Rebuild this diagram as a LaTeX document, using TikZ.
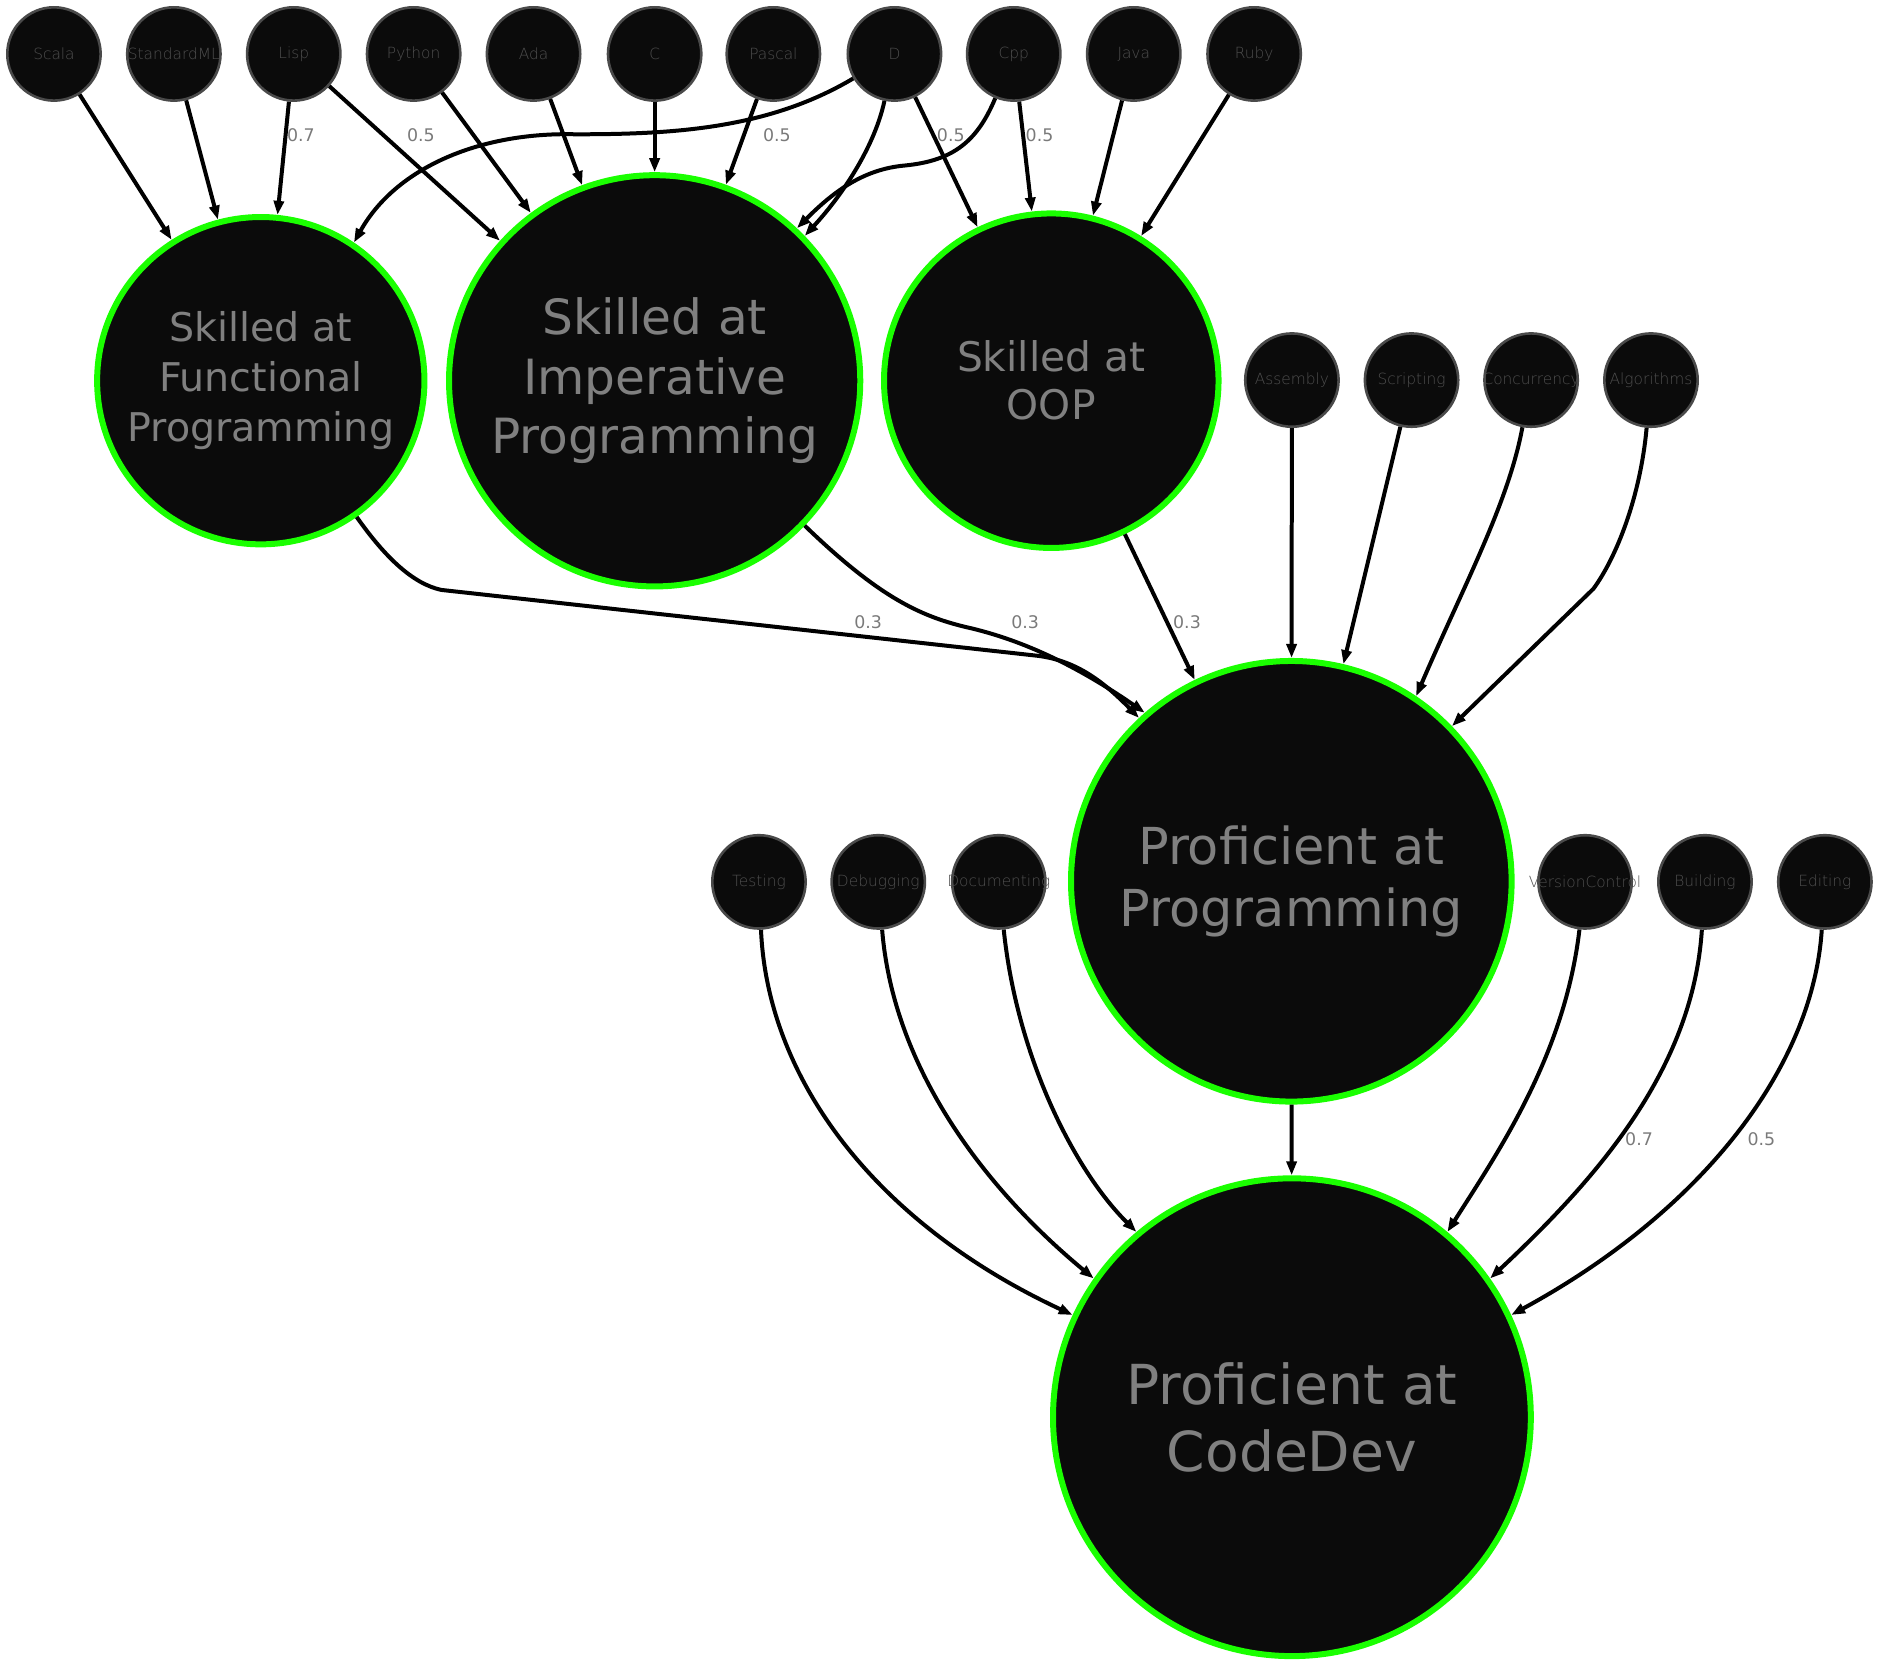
\documentclass[tikz,border=0pt]{standalone}
\usepackage{fontspec}
\setmainfont{DejaVu Sans}
\IfFontExistsTF{DejaVu Sans ExtraLight}{\newfontfamily\smallfont{DejaVu Sans ExtraLight}}{\newfontfamily\smallfont{DejaVu Sans}}
\usetikzlibrary{arrows.meta}
\definecolor{nodefill}{HTML}{0B0B0B}
\definecolor{ringgreen}{HTML}{1AFF00}
\definecolor{smallring}{HTML}{4A4A4A}
\definecolor{smalltext}{HTML}{4E4E4E}
\definecolor{bigtext}{HTML}{808080}
\definecolor{lbltext}{HTML}{7A7A7A}
\tikzset{
  small/.style={circle, draw=smallring, line width=1.3pt, fill=nodefill,
    minimum size=46.7pt, inner sep=0pt, text=smalltext,
    font=\smallfont\fontsize{7.7pt}{9pt}\selectfont},
  big/.style={circle, draw=ringgreen, line width=3pt, fill=nodefill,
    inner sep=0pt, text=bigtext, align=center},
  conn/.style={draw=black, line width=2pt, -{Triangle[length=7pt,width=5pt]}},
  lbl/.style={text=lbltext, font=\fontsize{8.7pt}{10pt}\selectfont, inner sep=0pt}
}
\begin{document}
\begin{tikzpicture}[x=0.6pt,y=-0.6pt]
\useasboundingbox (0,0) rectangle (1568,1388);

% big nodes
\node[big, minimum size=163.8pt, font=\fontsize{19.8pt}{24.9pt}\selectfont] (Func) at (217.5,317.5) {Skilled at\\Functional\\Programming};
\node[big, minimum size=205.8pt, font=\fontsize{24.3pt}{29.7pt}\selectfont] (Imp) at (546,317.6) {Skilled at\\Imperative\\Programming};
\node[big, minimum size=167.4pt, font=\fontsize{20.4pt}{24.1pt}\selectfont] (OOP) at (876.8,317.5) {Skilled at\\OOP};
\node[big, minimum size=220.5pt, font=\fontsize{25.5pt}{31pt}\selectfont] (Prog) at (1077,735) {Proficient at\\Programming};
\node[big, minimum size=239.1pt, font=\fontsize{27.6pt}{33.6pt}\selectfont] (Code) at (1077.5,1182) {Proficient at\\CodeDev};

% small nodes, top row
\node[small] (Scala) at (45,45) {\makebox[0pt]{Scala}};
\node[small] (SML) at (145,45) {\makebox[0pt]{StandardML}};
\node[small] (Lisp) at (245,45) {\makebox[0pt]{Lisp}};
\node[small] (Python) at (345,45) {\makebox[0pt]{Python}};
\node[small] (Ada) at (445,45) {\makebox[0pt]{Ada}};
\node[small] (C) at (546,45) {\makebox[0pt]{C}};
\node[small] (Pascal) at (645,45) {\makebox[0pt]{Pascal}};
\node[small] (D) at (746,45) {\makebox[0pt]{D}};
\node[small] (Cpp) at (845.5,45) {\makebox[0pt]{Cpp}};
\node[small] (Java) at (945.6,45) {\makebox[0pt]{Java}};
\node[small] (Ruby) at (1046,45) {\makebox[0pt]{Ruby}};
% middle row
\node[small] (Asm) at (1077.5,317) {\makebox[0pt]{Assembly}};
\node[small] (Scr) at (1177.3,317) {\makebox[0pt]{Scripting}};
\node[small] (Conc) at (1277,317) {\makebox[0pt]{Concurrency}};
\node[small] (Alg) at (1377,317) {\makebox[0pt]{Algorithms}};
% lower row
\node[small] (Test) at (633,735.5) {\makebox[0pt]{Testing}};
\node[small] (Debug) at (732.5,735.5) {\makebox[0pt]{Debugging}};
\node[small] (Doc) at (833,735.5) {\makebox[0pt]{Documenting}};
\node[small] (VC) at (1322,735.5) {\makebox[0pt]{VersionControl}};
\node[small] (Build) at (1422,735.5) {\makebox[0pt]{Building}};
\node[small] (Edit) at (1522,735.5) {\makebox[0pt]{Editing}};

% edges into Functional
\draw[conn] (Scala) -- (Func);
\draw[conn] (SML) -- (Func);
\draw[conn] (Lisp) -- (Func);
\draw[conn] (D) .. controls (640,108) and (560,112) .. (480,112) .. controls (400,110) and (330,140) .. (Func.56);
% edges into Imperative
\draw[conn] (Lisp) -- (Imp);
\draw[conn] (Python) -- (Imp);
\draw[conn] (Ada) -- (Imp);
\draw[conn] (C) -- (Imp);
\draw[conn] (Pascal) -- (Imp);
\draw[conn] (D) .. controls (730,120) and (705,160) .. (Imp.44);
\draw[conn] (Cpp) .. controls (815,118) and (795,134) .. (755,138) .. controls (720,141) and (695,160) .. (Imp.47);
% edges into OOP
\draw[conn] (D) -- (OOP);
\draw[conn] (Cpp) -- (OOP);
\draw[conn] (Java) -- (OOP);
\draw[conn] (Ruby) -- (OOP);
% edges into Programming
\draw[conn] (Func) .. controls (322,466) and (345,487) .. (368,492) -- (866,547) .. controls (896,551) and (918,566) .. (Prog.133);
\draw[conn] (Imp) .. controls (735,500) and (770,515) .. (810,524) .. controls (860,536) and (905,560) .. (Prog.131);
\draw[conn] (OOP) -- (Prog);
\draw[conn] (Asm) -- (Prog);
\draw[conn] (Scr) -- (Prog);
\draw[conn] (Conc) .. controls (1258,420) and (1220,490) .. (Prog.56);
\draw[conn] (Alg) .. controls (1368,415) and (1348,465) .. (1329,491) -- (Prog.44);
% edges into CodeDev
\draw[conn] (Prog) -- (Code);
\draw[conn] (Test) .. controls (640,900) and (730,1020) .. (Code.155);
\draw[conn] (Debug) .. controls (745,890) and (820,990) .. (Code.145);
\draw[conn] (Doc) .. controls (848,880) and (895,975) .. (Code.130);
\draw[conn] (VC) .. controls (1305,880) and (1250,960) .. (Code.50);
\draw[conn] (Build) .. controls (1412,890) and (1335,980) .. (Code.35);
\draw[conn] (Edit) .. controls (1512,890) and (1420,1010) .. (Code.25);

% edge labels
\node[lbl] (l1) at (251,113) {0.7};
\node[lbl] (l2) at (351,113) {0.5};
\node[lbl] (l3) at (648,113) {0.5};
\node[lbl] (l4) at (793,113) {0.5};
\node[lbl] (l5) at (867,113) {0.5};
\node[lbl] (l6) at (724,519) {0.3};
\node[lbl] (l7) at (855,519) {0.3};
\node[lbl] (l8) at (990,519) {0.3};
\node[lbl] (l9) at (1367,950) {0.7};
\node[lbl] (l10) at (1469,950) {0.5};
\end{tikzpicture}
\end{document}
